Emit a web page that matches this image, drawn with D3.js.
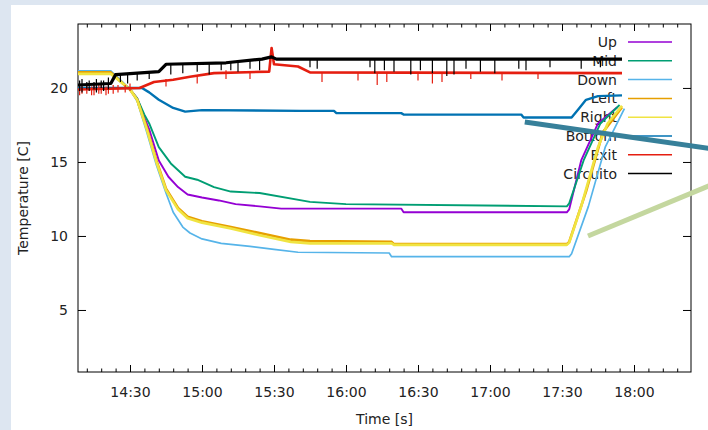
<!DOCTYPE html>
<html>
<head>
<meta charset="utf-8">
<script src="https://cdn.jsdelivr.net/npm/d3@7"></script>
<style>
  body { margin: 0; background: #dde6f1; }
  svg { display: block; font-family: "DejaVu Sans", sans-serif; }
</style>
</head>
<body>
<div id="chart"></div>
<script>
// temperature readings, [time, degC]
var up = [["14:08:20",21.0],["14:22",21.0],["14:27",20.3],["14:30",19.9],["14:33",19.3],["14:36",18.0],["14:38",17.2],["14:42",15.1],["14:46",14.0],["14:50",13.3],["14:54",12.8],["15:00",12.6],["15:07",12.4],["15:14",12.15],["15:24",12.0],["15:33",11.85],["16:23",11.85],["16:24",11.6],["17:32",11.6],["17:33",11.8],["17:38",15.1],["17:45",17.6],["17:53",18.7]];
var mid = [["14:08:20",21.0],["14:22",21.0],["14:27",20.3],["14:30",19.9],["14:33",19.3],["14:36",18.2],["14:38",17.6],["14:42",16.0],["14:47",14.9],["14:53",14.0],["14:58",13.8],["15:05",13.3],["15:12",13.0],["15:24",12.9],["15:45",12.3],["16:00",12.15],["17:32",12.0],["17:33",12.2],["17:39",15.1],["17:46",17.6],["17:54",18.85]];
var down = [["14:08:20",21.15],["14:22",21.15],["14:27",20.4],["14:30",19.9],["14:33",19.1],["14:37",17.0],["14:41",14.8],["14:45",12.9],["14:48",11.6],["14:52",10.6],["14:55",10.2],["15:00",9.8],["15:08",9.5],["15:20",9.3],["15:30",9.1],["15:40",8.9],["16:18",8.85],["16:19",8.6],["17:33",8.6],["17:34",8.8],["17:41",12.0],["17:48",16.0],["17:56",18.6]];
var left = [["14:08:20",21.05],["14:22",21.05],["14:27",20.3],["14:30",19.9],["14:33",19.2],["14:37",17.3],["14:41",15.1],["14:45",13.2],["14:50",11.9],["14:54",11.3],["15:00",11.0],["15:12",10.6],["15:24",10.2],["15:37",9.75],["15:45",9.65],["16:19",9.6],["16:20",9.45],["17:32",9.45],["17:33",9.6],["17:40",13.0],["17:47",17.0],["17:55",18.7]];
var right = [["14:08:20",20.95],["14:22",20.95],["14:27",20.3],["14:30",19.9],["14:33",19.2],["14:37",17.2],["14:41",15.0],["14:45",13.1],["14:50",11.8],["14:54",11.2],["15:00",10.9],["15:12",10.5],["15:24",10.05],["15:37",9.6],["15:45",9.5],["16:19",9.5],["16:20",9.4],["17:32",9.4],["17:33",9.55],["17:38",12.0],["17:45",16.0],["17:49",17.6],["17:55",18.8]];
var bottom = [["14:08:20",20.0],["14:35",20.0],["14:38",19.7],["14:42",19.2],["14:48",18.65],["14:53",18.4],["15:00",18.5],["15:41",18.45],["15:55",18.45],["15:56",18.3],["16:23",18.3],["16:24",18.2],["17:13",18.2],["17:14",18.0],["17:34",18.0],["17:37",18.6],["17:40",19.2],["17:45",19.45],["17:55",19.5]];
var exit = [["14:08:20",19.9],["14:34",20.0],["14:40",20.4],["14:48",20.55],["14:55",20.75],["15:05",21.0],["15:28",21.1],["15:29",22.7],["15:30",21.6],["15:40",21.45],["15:45",21.05],["17:55",21.0]];
var circuito = [["14:08:20",20.2],["14:22",20.3],["14:24",20.9],["14:42",21.1],["14:45",21.6],["15:10",21.7],["15:25",21.95],["15:29",22.1],["15:31",21.95],["17:55",21.95]];

// noise spikes, [time, high, low]
var exitSpikes = [["14:09",20.3,19.5],["14:10",20.1,19.6],["14:12",20.2,19.6],["14:14",20.1,19.5],["14:15",20.3,19.5],["14:17",20.2,19.6],["14:18",20.2,19.6],["14:20",20.1,19.5],["14:21",20.3,19.6],["14:23",20.2,19.6],["14:25",20.2,19.7],["14:28",20.2,19.7],["14:30",20.3,19.8],["14:45",20.6,20.1],["14:58",20.8,20.3],["15:10",21.2,20.6],["15:20",21.1,20.6],["15:50",21.05,20.4],["16:05",21.05,20.5],["16:13",21.05,20.2],["16:17",21.05,20.4],["16:30",21.05,20.5],["16:36",21.05,20.3],["16:40",21.05,20.4],["16:52",21.05,20.6],["17:05",21.05,20.5],["17:20",21.05,20.6]];
var circuitoSpikes = [["14:09",20.5,19.8],["14:10",20.6,19.7],["14:12",20.4,19.9],["14:13",20.5,19.8],["14:15",20.4,19.9],["14:16",20.6,19.7],["14:18",20.5,20.0],["14:19",20.5,19.8],["14:21",20.7,19.9],["14:26",21.0,20.4],["14:29",20.9,20.3],["14:33",21.0,20.5],["14:38",21.1,20.6],["14:47",21.6,20.9],["14:52",21.6,21.0],["14:58",21.7,21.1],["15:03",21.7,20.9],["15:08",21.7,21.2],["15:12",21.8,21.2],["15:15",21.8,21.1],["15:20",21.9,21.3],["15:24",21.95,21.2],["15:45",21.95,21.4],["15:48",21.95,21.3],["16:10",21.95,21.4],["16:12",21.95,21.0],["16:16",21.95,21.2],["16:20",21.95,21.1],["16:27",21.95,20.9],["16:31",21.95,21.2],["16:36",21.95,21.0],["16:42",21.95,20.8],["16:45",21.95,20.9],["16:50",21.95,21.3],["16:56",21.95,21.1],["17:02",21.95,21.0],["17:12",21.95,21.3],["17:15",21.95,21.2],["17:25",21.95,21.4],["17:38",21.95,21.3],["17:46",21.95,21.4]];

var names = ["Up", "Mid", "Down", "Left", "Right", "Bottom", "Exit", "Circuito"];
var colors = ["#9400d3", "#009e73", "#56b4e9", "#e69f00", "#f0e442", "#0072b2", "#e51e10", "#000000"];
var yTicks = [5, 10, 15, 20];
var timeDomain = ["14:08:20", "18:23:45"];
var tempDomain = [0.81, 24.32];

// slide annotations drawn over the plot, [time, degC] endpoints
var tealMark = [["17:14:30",17.7], ["18:36",15.8]];
var greenMark = [["17:40:50",10.0], ["18:36",13.7]];

var width = 708, height = 430;
var margin = { top: 24, right: 17, bottom: 58, left: 78 };

var parse = function (s) {
    return d3.timeParse(s.length > 5 ? "%H:%M:%S" : "%H:%M")(s);
};

var x = d3.scaleTime()
    .domain(timeDomain.map(parse))
    .range([margin.left, width - margin.right]);
var y = d3.scaleLinear()
    .domain(tempDomain)
    .range([height - margin.bottom, margin.top]);

var svg = d3.select("#chart").append("svg")
    .attr("width", width)
    .attr("height", height);

svg.append("rect").attr("width", width).attr("height", height).attr("fill", "#dde6f1");
svg.append("rect").attr("x", 11).attr("y", 5).attr("width", width).attr("height", height).attr("fill", "#ffffff");

// axes, gnuplot style: ticks inward, mirrored
var every30 = d3.timeMinute.every(30), every6 = d3.timeMinute.every(6);
function styleAxis(g) {
    g.select(".domain").remove();
    g.selectAll("line").attr("stroke", "#000").attr("stroke-width", 1);
    g.selectAll("text").attr("fill", "#222").style("font-size", "14px").style("font-family", "DejaVu Sans");
}
svg.append("g").attr("transform", "translate(0," + (height - margin.bottom) + ")")
    .call(d3.axisBottom(x).ticks(every6).tickSize(-3.5).tickFormat("")).call(styleAxis);
svg.append("g").attr("transform", "translate(0," + (height - margin.bottom) + ")")
    .call(d3.axisBottom(x).ticks(every30).tickSize(-7).tickPadding(15).tickFormat(d3.timeFormat("%H:%M"))).call(styleAxis);
svg.append("g").attr("transform", "translate(0," + margin.top + ")")
    .call(d3.axisTop(x).ticks(every6).tickSize(-3.5).tickFormat("")).call(styleAxis);
svg.append("g").attr("transform", "translate(0," + margin.top + ")")
    .call(d3.axisTop(x).ticks(every30).tickSize(-7).tickFormat("")).call(styleAxis);
svg.append("g").attr("transform", "translate(" + margin.left + ",0)")
    .call(d3.axisLeft(y).tickValues(yTicks).tickSize(-8).tickPadding(10)).call(styleAxis);
svg.append("g").attr("transform", "translate(" + (width - margin.right) + ",0)")
    .call(d3.axisRight(y).tickValues(yTicks).tickSize(-8).tickFormat("")).call(styleAxis);

svg.append("rect")
    .attr("x", margin.left).attr("y", margin.top)
    .attr("width", width - margin.left - margin.right)
    .attr("height", height - margin.top - margin.bottom)
    .attr("fill", "none").attr("stroke", "#000").attr("stroke-width", 1);

svg.append("text")
    .attr("transform", "translate(28," + ((margin.top + height - margin.bottom) / 2) + ") rotate(-90)")
    .attr("text-anchor", "middle").attr("fill", "#222").style("font-size", "14px")
    .text("Temperature [C]");
svg.append("text")
    .attr("x", (margin.left + width - margin.right) / 2).attr("y", 424)
    .attr("text-anchor", "middle").attr("fill", "#222").style("font-size", "14px")
    .text("Time [s]");

// key
var key = svg.append("g").attr("class", "key");
names.forEach(function (n, i) {
    var ky = 42 + i * 18.8;
    key.append("text").attr("x", 617).attr("y", ky).attr("dy", "0.35em")
        .attr("text-anchor", "end").attr("fill", "#222").style("font-size", "14px").text(n);
    key.append("line").attr("x1", 628).attr("x2", 672).attr("y1", ky).attr("y2", ky)
        .attr("stroke", colors[i]).attr("stroke-width", 1.5);
});

// curves
var line = d3.line()
    .x(function (d) { return x(parse(d[0])); })
    .y(function (d) { return y(d[1]); });
var series = [up, mid, down, left, right, bottom, exit, circuito];
var widths = [1.9, 1.9, 1.7, 2.6, 2.6, 2.4, 2.6, 3.2];
var plot = svg.append("g").attr("class", "curves");
series.forEach(function (s, i) {
    plot.append("path").datum(s)
        .attr("d", line)
        .attr("fill", "none")
        .attr("stroke", colors[i])
        .attr("stroke-width", widths[i])
        .attr("stroke-linejoin", "round");
    if (i === 6 || i === 7) {
        var spikes = i === 6 ? exitSpikes : circuitoSpikes;
        plot.selectAll(null).data(spikes).enter().append("line")
            .attr("x1", function (d) { return x(parse(d[0])); })
            .attr("x2", function (d) { return x(parse(d[0])); })
            .attr("y1", function (d) { return y(d[1]); })
            .attr("y2", function (d) { return y(d[2]); })
            .attr("stroke", colors[i]).attr("stroke-width", 1.2);
    }
});

// overlay strokes from the slide
[[tealMark, "#37809a"], [greenMark, "#c4d79f"]].forEach(function (m) {
    svg.append("path").datum(m[0])
        .attr("d", line)
        .attr("stroke", m[1]).attr("stroke-width", 5).attr("fill", "none");
});
</script>
</body>
</html>
